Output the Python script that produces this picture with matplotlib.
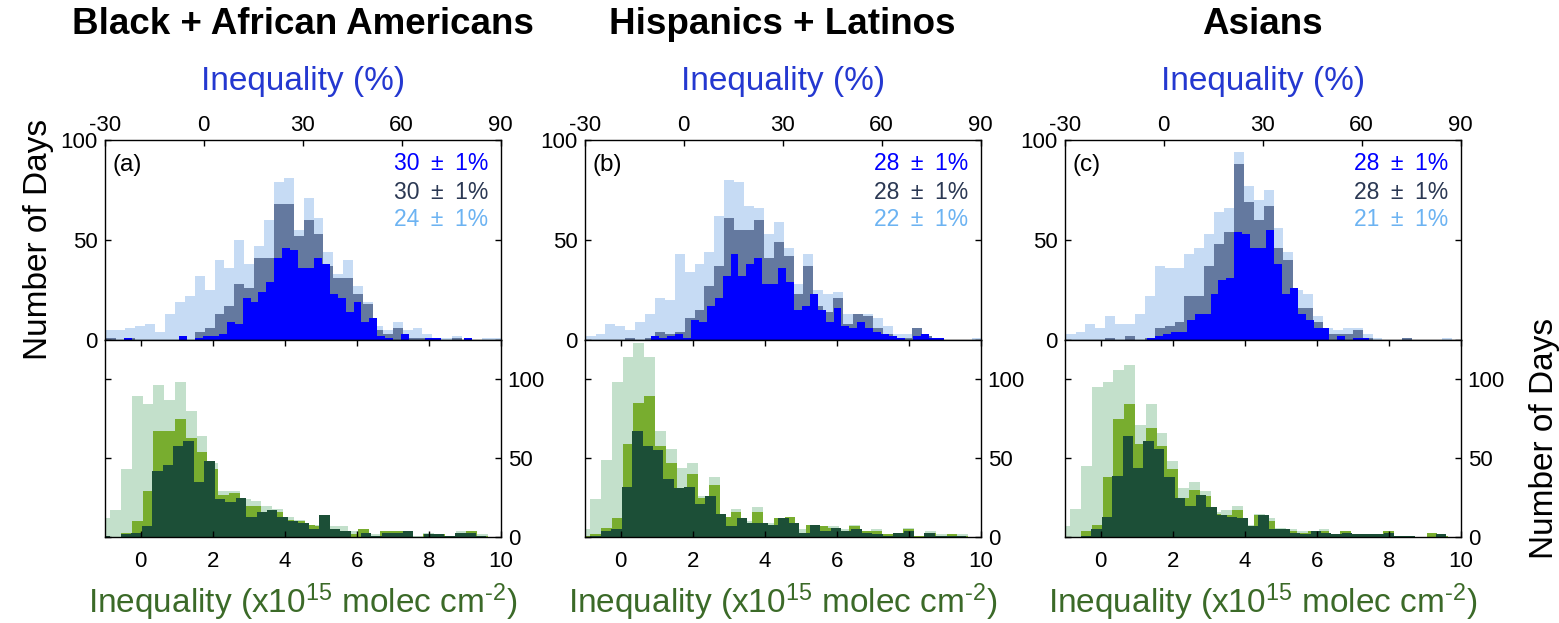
import numpy as np
import matplotlib
matplotlib.use('Agg')
import matplotlib.pyplot as plt

plt.rcParams['font.family'] = ['Liberation Sans', 'DejaVu Sans']
plt.rcParams['mathtext.fontset'] = 'custom'
plt.rcParams['mathtext.rm'] = 'Liberation Sans'
plt.rcParams['mathtext.it'] = 'Liberation Sans:italic'
plt.rcParams['mathtext.bf'] = 'Liberation Sans:bold'
plt.rcParams['axes.unicode_minus'] = False

# ---------------- text ----------------
titles = ['Black + African Americans', 'Hispanics + Latinos', 'Asians']
panel_labels = ['(a)', '(b)', '(c)']
stat_blue = ['30', '28', '28']
stat_slate = ['30', '28', '28']
stat_light = ['24', '22', '21']
pct_ticks = [-30, 0, 30, 60, 90]
col_ticks = [0, 2, 4, 6, 8, 10]

# ---------------- histogram bins ----------------
# percent histograms (light + slate): 3 % bins
PCT_START, PCT_WIDTH = -29.7, 3.0
# percent histogram (blue): 2.4 % bins
BLUE_START, BLUE_WIDTH = -31.4, 2.4
# column histograms (light green + green): 0.3 bins
COL_START, COL_WIDTH = -1.15, 0.3
# column histogram (dark green): 0.29 bins
DARK_START, DARK_WIDTH = -1.132, 0.29

# ---------------- counts: panel (a) ----------------
light_a = [5, 5, 6, 7, 8, 4, 13, 19, 22, 32, 25, 40, 36, 50, 38, 47, 60, 79, 81, 55,
           71, 61, 44, 33, 40, 27, 19, 7, 5, 9, 5, 6, 3, 1, 1, 2, 0, 0, 1, 1]
slate_a = [1, 0, 1, 0, 0, 0, 0, 0, 0, 4, 6, 13, 17, 28, 26, 41, 41, 68, 68, 52,
           60, 53, 37, 31, 31, 23, 18, 5, 3, 6, 1, 1, 1, 0, 0, 1, 0, 0, 0, 0]
blue_a = [0, 0, 0, 1, 0, 0, 0, 0, 0, 0, 2, 0, 1, 2, 2, 3, 9, 8, 21, 19,
          24, 29, 41, 46, 45, 36, 36, 41, 38, 23, 21, 14, 19, 9, 11, 2, 1, 0, 3, 0,
          0, 1, 1, 0, 0, 0, 1, 0, 0, 0, 0]
lightg_a = [12, 17, 43, 89, 84, 96, 87, 98, 80, 64, 47, 29, 29, 24, 23, 20, 18, 13,
            11, 8, 8, 7, 7, 4, 5, 2, 4, 4, 4, 1, 3, 2, 1, 4, 4, 2]
medg_a = [0, 0, 3, 10, 29, 67, 67, 75, 63, 54, 43, 27, 28, 20, 20, 16, 16, 11,
          10, 8, 7, 5, 4, 2, 5, 1, 4, 4, 4, 0, 2, 2, 1, 3, 4, 1]
darkg_a = [1, 0, 2, 3, 7, 42, 46, 58, 61, 35, 48, 24, 22, 25, 13, 16, 17, 13, 10,
           9, 5, 14, 5, 4, 0, 3, 1, 3, 3, 4, 0, 2, 2, 1, 3, 3, 1]

# ---------------- counts: panel (b) ----------------
light_b = [2, 3, 8, 7, 5, 9, 13, 21, 20, 43, 34, 38, 44, 62, 80, 79, 67, 66, 53, 59,
           46, 28, 43, 25, 23, 24, 13, 13, 13, 11, 7, 3, 3, 3, 2, 1, 0, 0, 0, 1]
slate_b = [0, 0, 0, 0, 1, 0, 1, 4, 3, 4, 11, 15, 27, 37, 61, 55, 55, 60, 41, 49,
           42, 23, 37, 17, 14, 21, 8, 13, 12, 6, 3, 1, 1, 6, 2, 1, 0, 0, 0, 0]
blue_b = [0, 0, 0, 0, 0, 0, 0, 0, 0, 2, 1, 2, 3, 1, 10, 9, 17, 21, 32, 43,
          32, 38, 41, 28, 28, 36, 29, 15, 17, 23, 15, 9, 16, 7, 6, 9, 6, 4, 3, 2,
          1, 0, 2, 3, 1, 1, 0, 0, 0, 0, 0]
lightg_b = [5, 24, 49, 98, 114, 123, 114, 67, 56, 44, 47, 26, 38, 13, 18, 10, 19, 9,
            12, 13, 5, 8, 7, 7, 5, 8, 4, 5, 2, 2, 6, 1, 4, 2, 2, 2]
medg_b = [1, 2, 6, 12, 59, 85, 89, 58, 47, 31, 40, 25, 33, 13, 16, 8, 16, 8,
          12, 13, 3, 8, 7, 6, 4, 7, 4, 4, 2, 2, 5, 1, 3, 1, 2, 1]
darkg_b = [0, 1, 4, 5, 32, 67, 58, 55, 37, 31, 32, 21, 26, 15, 7, 12, 9, 9, 8,
           12, 9, 3, 8, 4, 6, 4, 5, 3, 2, 1, 3, 4, 0, 3, 1, 1, 1]

# ---------------- counts: panel (c) ----------------
light_c = [3, 4, 8, 6, 12, 8, 8, 13, 22, 37, 36, 36, 43, 46, 53, 64, 66, 94, 77, 70,
           75, 56, 44, 25, 23, 12, 6, 5, 6, 6, 3, 1, 0, 0, 1, 0, 0, 0, 1, 0]
slate_c = [0, 0, 0, 0, 1, 0, 2, 0, 1, 6, 7, 9, 22, 22, 37, 48, 54, 88, 69, 60,
           67, 46, 40, 16, 16, 9, 3, 3, 3, 5, 1, 0, 0, 0, 1, 0, 0, 0, 0, 0]
blue_c = [0, 0, 0, 0, 0, 0, 0, 0, 0, 0, 0, 1, 2, 3, 4, 4, 10, 13, 13, 23,
          30, 31, 54, 53, 46, 46, 55, 38, 23, 26, 13, 10, 6, 6, 0, 2, 0, 1, 1, 0,
          0, 0, 0, 0, 0, 0, 0, 0, 0, 0, 0]
lightg_c = [7, 18, 45, 95, 98, 106, 109, 71, 84, 66, 48, 31, 35, 29, 16, 17, 20, 8,
            15, 12, 6, 5, 4, 4, 5, 1, 4, 2, 2, 2, 4, 1, 0, 0, 3, 1]
medg_c = [0, 0, 4, 8, 38, 75, 84, 59, 69, 58, 43, 25, 30, 26, 15, 14, 17, 7,
          14, 10, 5, 4, 3, 4, 4, 1, 4, 1, 1, 2, 4, 0, 0, 0, 3, 1]
darkg_c = [0, 0, 1, 5, 13, 39, 64, 44, 61, 56, 38, 25, 20, 27, 19, 14, 13, 12, 7,
           14, 5, 5, 3, 2, 4, 3, 2, 3, 2, 2, 2, 3, 1, 1, 0, 0, 2]

panels = [
    (light_a, slate_a, blue_a, lightg_a, medg_a, darkg_a),
    (light_b, slate_b, blue_b, lightg_b, medg_b, darkg_b),
    (light_c, slate_c, blue_c, lightg_c, medg_c, darkg_c),
]

# ---------------- styles ----------------
C_LIGHT = '#c6dbf4'
C_SLATE = '#64799f'
C_BLUE = '#0000ff'
C_LIGHTG = '#c3e0cb'
C_MEDG = '#78ad2f'
C_DARKG = '#1c4f37'
C_TXT_BLUE = '#0000ff'
C_TXT_SLATE = '#2b3853'
C_TXT_LIGHT = '#6cb3f2'
C_PCT_LABEL = '#2438d0'
C_COL_LABEL = '#3b6a28'

W, H = 1559, 623
fig = plt.figure(figsize=(W / 100, H / 100), dpi=100)

lefts_px = [104.7, 584.7, 1064.7]
width_px = 396.0
top_y0, top_y1 = 140.0, 339.5
bot_y0, bot_y1 = 339.5, 537.3

SEP = '\u2002\u00b1\u2002'


def edges(start, width, n):
    return start + width * np.arange(n + 1)


for i, (lt, sl, bl, lg, mg, dg) in enumerate(panels):
    lp = lefts_px[i]
    ax_t = fig.add_axes([lp / W, 1 - top_y1 / H, width_px / W, (top_y1 - top_y0) / H])
    ax_b = fig.add_axes([lp / W, 1 - bot_y1 / H, width_px / W, (bot_y1 - bot_y0) / H])

    # top: percent histograms
    ax_t.stairs(lt, edges(PCT_START, PCT_WIDTH, len(lt)), fill=True, color=C_LIGHT, lw=0)
    ax_t.stairs(sl, edges(PCT_START, PCT_WIDTH, len(sl)), fill=True, color=C_SLATE, lw=0)
    ax_t.stairs(bl, edges(BLUE_START, BLUE_WIDTH, len(bl)), fill=True, color=C_BLUE, lw=0)
    ax_t.set_xlim(-30, 90)
    ax_t.set_ylim(0, 100)
    ax_t.set_xticks(pct_ticks)
    ax_t.set_yticks([0, 50, 100])
    ax_t.tick_params(axis='x', which='both', direction='in', length=4, width=1,
                     bottom=False, top=True, labelbottom=False, labeltop=True,
                     labelsize=16, pad=3)
    ax_t.tick_params(axis='y', which='both', direction='in', length=4, width=1,
                     left=True, right=True, labelleft=True, labelright=False,
                     labelsize=16, pad=5)
    ax_t.xaxis.set_label_position('top')
    ax_t.set_xlabel('Inequality (%)', color=C_PCT_LABEL, fontsize=24, labelpad=18)

    ax_t.text(0.02, 0.875, panel_labels[i], transform=ax_t.transAxes, fontsize=17.5,
              ha='left', va='center', color='black')
    ax_t.text(0.968, 0.881, stat_blue[i] + SEP + '1%', transform=ax_t.transAxes,
              fontsize=16.5, ha='right', va='center', color=C_TXT_BLUE)
    ax_t.text(0.968, 0.739, stat_slate[i] + SEP + '1%', transform=ax_t.transAxes,
              fontsize=16.5, ha='right', va='center', color=C_TXT_SLATE)
    ax_t.text(0.968, 0.599, stat_light[i] + SEP + '1%', transform=ax_t.transAxes,
              fontsize=16.5, ha='right', va='center', color=C_TXT_LIGHT)

    # bottom: column histograms
    ax_b.stairs(lg, edges(COL_START, COL_WIDTH, len(lg)), fill=True, color=C_LIGHTG, lw=0)
    ax_b.stairs(mg, edges(COL_START, COL_WIDTH, len(mg)), fill=True, color=C_MEDG, lw=0)
    ax_b.stairs(dg, edges(DARK_START, DARK_WIDTH, len(dg)), fill=True, color=C_DARKG, lw=0)
    ax_b.set_xlim(-1, 10)
    ax_b.set_ylim(0, 125)
    ax_b.set_xticks(col_ticks)
    ax_b.set_yticks([0, 50, 100])
    ax_b.tick_params(axis='x', which='both', direction='in', length=4, width=1,
                     bottom=True, top=True, labelbottom=True, labeltop=False,
                     labelsize=16, pad=10)
    ax_b.tick_params(axis='y', which='both', direction='in', length=4, width=1,
                     left=True, right=True, labelleft=False, labelright=True,
                     labelsize=16, pad=5)
    ax_b.set_xlabel(r'Inequality (x10$^{15}$ molec cm$^{\text{-2}}$)', color=C_COL_LABEL,
                    fontsize=24, labelpad=7)

    for ax in (ax_t, ax_b):
        for sp in ax.spines.values():
            sp.set_linewidth(1.0)
            sp.set_color('black')

    if i == 0:
        ax_t.set_ylabel('Number of Days', fontsize=24, labelpad=5)
    if i == 2:
        ax_b.yaxis.set_label_position('right')
        ax_b.set_ylabel('Number of Days', fontsize=24, labelpad=17)

    fig.text((lp + width_px / 2) / W, 1 - 25 / H, titles[i], fontsize=26.5,
             fontweight='bold', ha='center', va='center')

fig.savefig('out.png', dpi=100)
